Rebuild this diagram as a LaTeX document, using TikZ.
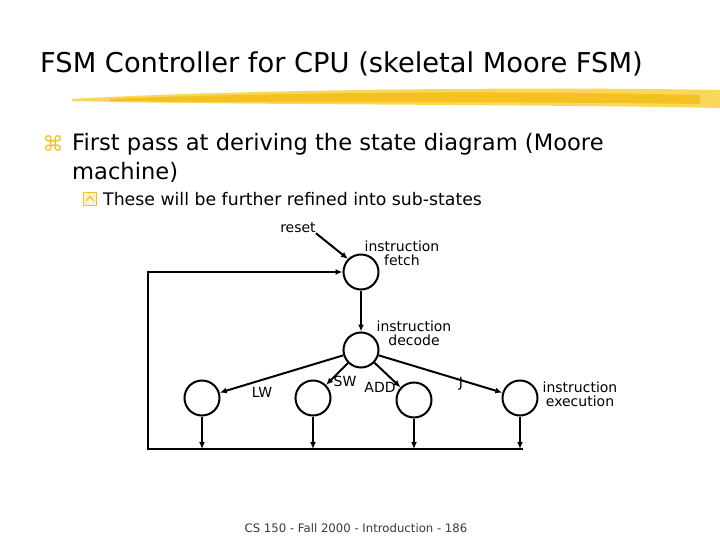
\documentclass[tikz,border=0pt]{standalone}
\usepackage{fontspec}
\setmainfont{DejaVu Sans}
\usepackage{tikz}
\usetikzlibrary{arrows.meta, positioning}
\definecolor{brush}{HTML}{F3C221}
\definecolor{brushlight}{HTML}{F9D75A}
\definecolor{footgray}{HTML}{3A3A3A}
\begin{document}
\begin{tikzpicture}[
        x=1pt, y=-1pt,
        node distance=41pt and 1cm,
        state/.style={draw, circle, line width=2pt, minimum size=35pt, inner sep=0pt},
        arrow/.style={-{Latex[length=7pt, width=6pt]}, line width=2pt},
        lbl/.style={font=\fontsize{14}{14}\selectfont, align=center, inner sep=0pt}
    ]
        \useasboundingbox[fill=white] (0,0) rectangle (720,540);

        % Title and brush stroke
        \node[anchor=west, inner sep=0pt, font=\fontsize{27.3}{30}\selectfont] (title) at (40,64) {FSM Controller for CPU (skeletal Moore FSM)};
        \fill[brushlight] (72,99) .. controls (200,91) and (500,86) .. (720,90) -- (720,108) .. controls (520,104) and (220,105) .. (72,101) -- cycle;
        \fill[brush] (110,99) .. controls (250,93) and (480,90) .. (700,95) -- (700,104) .. controls (480,101) and (250,103) .. (110,101) -- cycle;

        % Bullets
        \node[text=brush, inner sep=0pt, font=\fontsize{21}{21}\selectfont] (mark) at (53,144) {⌘};
        \node[anchor=west, inner sep=0pt, align=left, font=\fontsize{22.6}{29}\selectfont] (point) at (72,158) {First pass at deriving the state diagram (Moore\\machine)};
        \node[draw=brush, fill=brushlight!30, line width=1.2pt, minimum size=13pt, inner sep=0pt] (box) at (90,199) {};
        \draw[brush, line width=1.2pt] ([shift={(-4pt,-2pt)}]box.center) -- ([shift={(0pt,2.5pt)}]box.center) -- ([shift={(4pt,-2pt)}]box.center);
        \node[anchor=west, inner sep=0pt, font=\fontsize{17.3}{20}\selectfont] (subpoint) at (103,199) {These will be further refined into sub-states};

        % Nodes
        \node[state] (fetch) at (361,272) {};
        \node[state, below=of fetch] (decode) {};
        \node[state] (lw) at (202,398) {};
        \node[state] (sw) at (313,398) {};
        \node[state] (add) at (414,400) {};
        \node[state] (exec) at (520,398) {};
        \coordinate (bl) at (148,449);
        \coordinate (br) at (523,449);

        % Labels
        \node[lbl] (reset) at (298,228) {reset};
        \node[lbl] (fetchlbl) at (402,253) {instruction\\fetch};
        \node[lbl] (decodelbl) at (414,333) {instruction\\decode};
        \node[lbl] (execlbl) at (580,394) {instruction\\execution};
        \node[lbl] (lwlbl) at (262,392) {LW};
        \node[lbl] (swlbl) at (345,381) {SW};
        \node[lbl] (addlbl) at (380,387) {ADD};
        \node[lbl] (jlbl) at (461,384) {J};

        % Arrows
        \draw[arrow] (reset.south east) -- (fetch.north west);
        \draw[arrow] (fetch) -- (decode);
        \draw[arrow] (decode) -- (lw);
        \draw[arrow] (decode) -- (sw);
        \draw[arrow] (decode) -- (add);
        \draw[arrow] (decode) -- (exec);
        \draw[arrow] (lw) -- (lw |- bl);
        \draw[arrow] (sw) -- (sw |- bl);
        \draw[arrow] (add) -- (add |- bl);
        \draw[arrow] (exec) -- (exec |- bl);
        \draw[arrow] (br) -- (bl) |- (fetch);

        % Footer
        \node[text=footgray, inner sep=0pt, font=\fontsize{11.7}{13}\selectfont] (footer) at (356,528) {CS 150 - Fall 2000 - Introduction - 186};
    \end{tikzpicture}
\end{document}
